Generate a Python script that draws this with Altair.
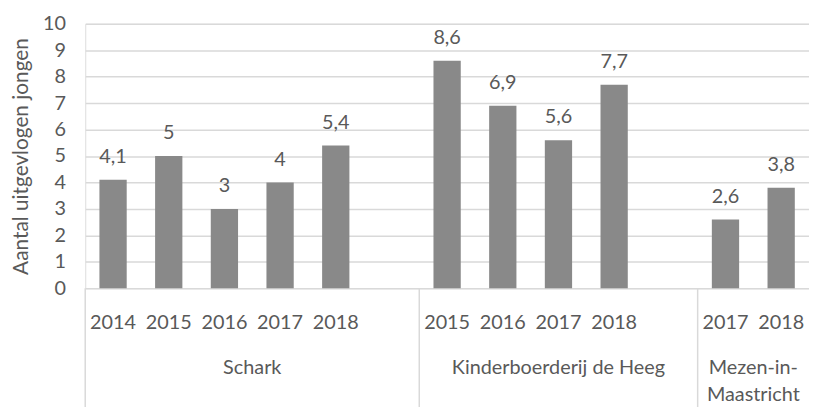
import altair as alt
import pandas as pd

# ---- data ----
group_names = ["Schark", "Kinderboerderij de Heeg", "Mezen-in-\nMaastricht"]
schark_years = ["2014", "2015", "2016", "2017", "2018"]
schark_values = [4.1, 5, 3, 4, 5.4]
kinder_years = ["2015", "2016", "2017", "2018"]
kinder_values = [8.6, 6.9, 5.6, 7.7]
mezen_years = ["2017", "2018"]
mezen_values = [2.6, 3.8]
# empty category slots after each group (as in the source spreadsheet)
gap_slots = [1, 1, 0]
y_ticks = list(range(0, 11))

groups = [
    (group_names[0], schark_years, schark_values),
    (group_names[1], kinder_years, kinder_values),
    (group_names[2], mezen_years, mezen_values),
]

rows = []
domain = []
bounds = [0]
mids = []
for gi, (gname, years, vals) in enumerate(groups):
    start = len(domain)
    for yr, v in zip(years, vals):
        key = f"{gi}-{yr}"
        domain.append(key)
        lbl = (f"{v:g}").replace(".", ",")
        rows.append({"slot": key, "year": yr, "value": v, "label": lbl, "group": gname})
    for k in range(gap_slots[gi]):
        domain.append(f"{gi}-gap{k}")
    end = len(domain)
    bounds.append(end)
    mids.append((start + end) / 2)

df = pd.DataFrame(rows)
n_slots = len(domain)
grp_df = pd.DataFrame({"pos": mids, "name": group_names})
sep_df = pd.DataFrame({"pos": bounds[:-1]})

W, H = 731, 267
FONT = "Lato"
TXT = "#595959"
GRID = "#d9d9d9"

xband = alt.X("slot:N", scale=alt.Scale(domain=domain, paddingInner=0.51, paddingOuter=0.255), axis=None)
yq = alt.Y("value:Q", scale=alt.Scale(domain=[0, 10], nice=False),
           axis=alt.Axis(values=y_ticks, title="Aantal uitgevlogen jongen", grid=True,
                         gridColor=GRID, gridWidth=1.5, domain=False, ticks=False,
                         labelOverlap=False,
                         labelPadding=20, labelFontSize=20, labelColor=TXT, labelFont=FONT,
                         titleFontSize=21, titleFont=FONT, titleColor=TXT, titleFontWeight="normal",
                         titlePadding=11))

bars = alt.Chart(df).mark_bar(color="#898989").encode(x=xband, y=yq)
values = alt.Chart(df).mark_text(baseline="bottom", dy=-13, fontSize=20, font=FONT, color=TXT).encode(
    x=xband, y=yq, text="label:N")
years_txt = alt.Chart(df).mark_text(baseline="middle", fontSize=20, font=FONT, color=TXT).encode(
    x=xband, y=alt.value(H + 35), text="year:N")

xlin = alt.X("pos:Q", scale=alt.Scale(domain=[0, n_slots], nice=False, zero=False), axis=None)
seps = alt.Chart(sep_df).mark_rule(color=GRID, strokeWidth=1.5).encode(
    x=xlin, y=alt.value(H), y2=alt.value(H + 140))
grp_txt = alt.Chart(grp_df).mark_text(baseline="middle", fontSize=20, font=FONT, color=TXT,
                                      lineBreak="\n", lineHeight=27).encode(
    x=xlin, y=alt.value(H + 81), text="name:N")

band_layer = alt.layer(bars, values, years_txt)
lin_layer = alt.layer(seps, grp_txt)

chart = alt.layer(band_layer, lin_layer).resolve_scale(x="independent").properties(
    width=W, height=H,
    autosize=alt.AutoSizeParams(type="none"),
    padding={"left": 78, "top": 14, "right": 0, "bottom": 120},
).configure_view(strokeWidth=0).configure(background="white")

chart.save("out.html", embed_options={"renderer": "svg", "actions": False})
